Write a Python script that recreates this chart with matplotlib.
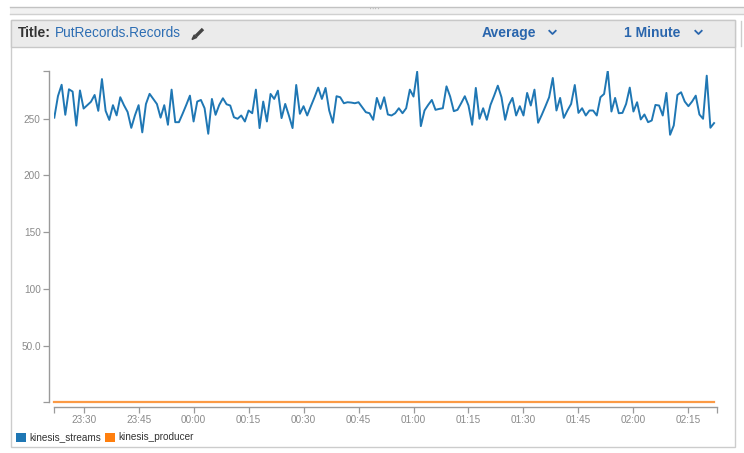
import matplotlib.pyplot as plt
import matplotlib.dates as mdates
import pandas as pd
from matplotlib.patches import Rectangle, Polygon
from matplotlib.lines import Line2D

plt.rcParams['font.family'] = ['Liberation Sans', 'DejaVu Sans']

W, H = 744, 453

# PutRecords.Records, 1-minute averages
streams = [
    251, 270, 280, 253.5, 276, 274, 244, 275, 259, 262, 265, 271, 257, 285, 257, 249,
    262, 253, 269, 262, 256, 242, 253, 262, 238, 263, 272, 267.5, 263, 251, 262,
    244.7, 275.7, 247, 247, 254.4, 262.2, 270.4, 247.6, 265.2, 266.6, 259.3, 236.8,
    267.5, 253.5, 262.2, 268.1, 262.8, 261.7, 251.4, 250, 252.9, 247.6, 257.3, 254.9,
    275.7, 241.8, 265.2, 247.6, 271.9, 267.5, 274.8,
    250.6, 263.1, 252.9, 241.8, 279.8, 254.4, 261.1, 252.9, 261.1, 269, 277.5, 267.5,
    277.2, 257.3, 246.5, 269.9, 269, 263.7, 264.6, 264.3, 263.7, 264.6, 260.2, 255.8,
    254.9, 249.1, 268.4, 258.7, 269, 253.8, 252.9, 254.9,
    259.3, 254.9, 259.3, 275.7, 269.6, 291.5, 243.5, 257.3, 262.2, 266.6, 257.9, 258.7,
    259.3, 278.6, 269.6, 256.7, 257.9, 263.7, 269.9, 261.7, 244.7, 277.2, 250, 259.3,
    249.1, 262.2, 270.4, 279.2, 269, 249.1, 262.2,
    268.4, 252.9, 261.1, 252.9, 272.8, 261.7, 275.7, 246.5, 253.5, 261.1, 269, 286,
    257.3, 268.4, 250.8, 257.3, 263.1, 279.8, 255.2, 259.3, 252.9, 257.3, 257.3, 252.9,
    269, 271.9, 292.4, 256.4, 268.4, 254.9, 255.2, 263.1,
    277.5, 256.4, 264.6, 249.4, 253.8, 247, 248.5, 262.2, 261.7, 252.9, 272.8, 235.9,
    244.1, 271, 273.4, 265.2, 261.1, 265.2, 270.4, 253.8, 250, 288, 242.1, 246.2,
]
producer = [0] * len(streams)
times = pd.date_range('2015-06-01 23:22', periods=len(streams), freq='min')
tick_times = pd.date_range('2015-06-01 23:30', '2015-06-02 02:15', freq='15min')
y_ticks = [50, 100, 150, 200, 250]
y_labels = ['50.0', '100', '150', '200', '250']
series_names = ['kinesis_streams', 'kinesis_producer']
colors = ['#1f77b4', '#ff7f0e']

fig = plt.figure(figsize=(W / 100, H / 100), dpi=100)
fig.patch.set_facecolor('white')


def fx(x):
    return x / W


def fy(y):
    return 1 - y / H


def box(x0, y0, x1, y1, **kw):
    fig.add_artist(Rectangle((fx(x0), fy(y1)), (x1 - x0) / W, (y1 - y0) / H,
                             transform=fig.transFigure, **kw))


def line(xs, ys, **kw):
    fig.add_artist(Line2D([fx(x) for x in xs], [fy(y) for y in ys],
                          transform=fig.transFigure, **kw))


# top splitter band
box(10, 7, 744, 14.3, facecolor='#f1f1f1', edgecolor='none')
line([10, 744], [7, 7], color='#c2c2c2', lw=1)
line([10, 744], [14.3, 14.3], color='#d0d0d0', lw=1)
fig.text(fx(375), fy(10.5), "' ' ' '", fontsize=4, color='#999999', ha='center', va='center')

# panel
box(11, 20, 735, 446.5, facecolor='white', edgecolor='#cccccc', lw=1)
box(11, 20, 735, 46.5, facecolor='#ebebeb', edgecolor='#c8c8c8', lw=1)
line([740.5, 740.5], [21, 46], color='#cccccc', lw=1)

fig.text(fx(18), fy(33), 'Title:', fontsize=10, fontweight='bold', color='#333333', va='center')
fig.text(fx(55), fy(33), 'PutRecords.Records', fontsize=9.8, color='#2c6db3', va='center')
# pencil icon
line([196, 203], [36, 29], color='#444444', lw=2.4, solid_capstyle='butt')
fig.add_artist(Polygon([(fx(192), fy(39.5)), (fx(194.2), fy(35)), (fx(196.8), fy(37.4))],
                       closed=True, transform=fig.transFigure, color='#444444'))

fig.text(fx(482), fy(33), 'Average', fontsize=10, fontweight='bold', color='#2a66ad', va='center')
fig.text(fx(624), fy(33), '1 Minute', fontsize=10, fontweight='bold', color='#2a66ad', va='center')
for cx in (552.5, 698.5):
    line([cx - 3.2, cx, cx + 3.2], [30.8, 34, 30.8], color='#2a66ad', lw=1.3)

# chart
ax = fig.add_axes([fx(54.3), fy(402.3), (717 - 54.3) / W, (402.3 - 70.7) / H])
ax.set_zorder(5)
ax.set_facecolor('none')
ax.plot(times, streams, color=colors[0], lw=1.4)
ax.plot(times, producer, color='#fb9a45', lw=1.6, clip_on=False)

x0 = times[0]
x1 = times[0] + pd.Timedelta(minutes=180.8)
ax.set_xlim(x0, x1)
ymax = max(streams)
ax.set_ylim(0, ymax)

xt = [mdates.date2num(x0)] + [mdates.date2num(t) for t in tick_times] + [mdates.date2num(x1)]
ax.set_xticks(xt)
ax.set_xticklabels([''] + [t.strftime('%H:%M') for t in tick_times] + [''])
ax.set_yticks([0] + y_ticks + [ymax])
ax.set_yticklabels([''] + y_labels + [''])

for s in ('top', 'right'):
    ax.spines[s].set_visible(False)
for s in ('left', 'bottom'):
    ax.spines[s].set_position(('outward', 3.6))
    ax.spines[s].set_color('#9a9a9a')
    ax.spines[s].set_linewidth(1)
ax.tick_params(axis='both', length=4.3, width=0.9, color='#9a9a9a',
               labelcolor='#8a8a8a', labelsize=7.2)
ax.tick_params(axis='y', pad=1.9)
ax.tick_params(axis='x', pad=1.2)

# legend
lx = [16, 105.3]
tx = [29, 118.7]
for name, c, x, t in zip(series_names, colors, lx, tx):
    box(x, 433, x + 9.5, 442, facecolor=c, edgecolor='none')
    fig.text(fx(t), fy(437.5), name, fontsize=7.2, color='#333333', va='center')

fig.savefig('out.png', dpi=100)
